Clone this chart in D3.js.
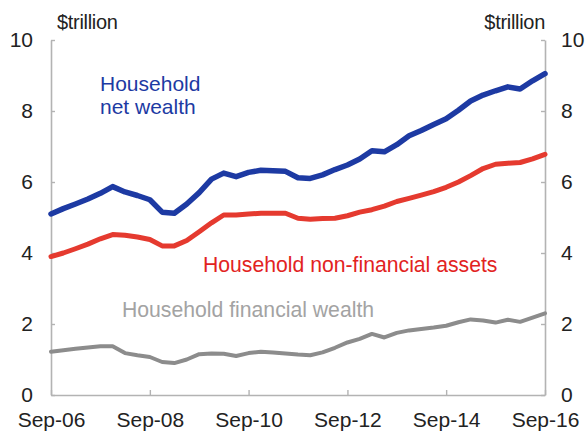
<!DOCTYPE html>
<html>
<head>
<meta charset="utf-8">
<script src="https://cdn.jsdelivr.net/npm/d3@7"></script>
<style>
  html, body { margin: 0; padding: 0; background: #fff; }
  svg { display: block; }
  text { font-family: "Liberation Sans", Arial, sans-serif; }
</style>
</head>
<body>
<svg id="chart" width="588" height="432"></svg>
<script>
// Quarterly household balance sheet, Sep-2006 to Sep-2016 ($ trillion)
const quarterCount = 41;

const netWealth = [
  5.10, 5.25, 5.38, 5.52, 5.68, 5.87, 5.72, 5.62, 5.50, 5.15,
  5.12, 5.38, 5.70, 6.08, 6.25, 6.15, 6.27, 6.33, 6.32, 6.30,
  6.12, 6.10, 6.20, 6.35, 6.48, 6.65, 6.88, 6.85, 7.05, 7.30,
  7.45, 7.62, 7.78, 8.02, 8.28, 8.45, 8.57, 8.68, 8.62, 8.85,
  9.05
];
const nonFinancialAssets = [
  3.90, 4.00, 4.12, 4.25, 4.40, 4.52, 4.50, 4.45, 4.38, 4.20,
  4.20, 4.35, 4.60, 4.85, 5.07, 5.07, 5.10, 5.12, 5.12, 5.12,
  4.98, 4.95, 4.97, 4.98, 5.05, 5.15, 5.22, 5.32, 5.45, 5.54,
  5.63, 5.73, 5.85, 6.00, 6.18, 6.38, 6.50, 6.53, 6.55, 6.65,
  6.78
];
const financialWealth = [
  1.22, 1.26, 1.30, 1.34, 1.37, 1.37, 1.18, 1.12, 1.07, 0.93,
  0.90, 1.00, 1.15, 1.17, 1.16, 1.10, 1.18, 1.22, 1.20, 1.17,
  1.14, 1.12, 1.20, 1.33, 1.48, 1.58, 1.72, 1.62, 1.75, 1.82,
  1.86, 1.90, 1.95, 2.05, 2.13, 2.10, 2.04, 2.12, 2.06, 2.18,
  2.30
];
const yTicks = [0, 2, 4, 6, 8, 10];
const xTickLabels = ["Sep-06", "Sep-08", "Sep-10", "Sep-12", "Sep-14", "Sep-16"];
const unitLabel = "$trillion";

const quarters = d3.range(quarterCount).map(i => d3.timeMonth.offset(new Date(2006, 8, 1), 3 * i));

const svg = d3.select("#chart");
const plotLeft = 51, plotRight = 545, plotTop = 40, plotBottom = 395;

const x = d3.scaleTime()
  .domain([quarters[0], quarters[quarters.length - 1]])
  .range([plotLeft, plotRight]);
const y = d3.scaleLinear().domain([0, 10]).range([plotBottom, plotTop]);

const axisColor = "#b3b3b3";
const labelColor = "#222";

// Axes
const xTickDates = xTickLabels.map((_, i) => quarters[i * 8]);
const gx = svg.append("g").attr("transform", `translate(0,${plotBottom})`)
  .call(d3.axisBottom(x).tickValues(xTickDates).tickSize(-5).tickSizeOuter(0)
    .tickFormat((d, i) => xTickLabels[i]).tickPadding(20));
const gl = svg.append("g").attr("transform", `translate(${plotLeft},0)`)
  .call(d3.axisLeft(y).tickValues(yTicks).tickSize(-4).tickSizeOuter(0).tickPadding(18));
const gr = svg.append("g").attr("transform", `translate(${plotRight},0)`)
  .call(d3.axisRight(y).tickValues(yTicks).tickSize(-4).tickSizeOuter(0).tickPadding(16));

[gx, gl, gr].forEach(g => {
  g.select(".domain").attr("stroke", axisColor).attr("stroke-width", 1.6);
  g.selectAll(".tick line").attr("stroke", axisColor).attr("stroke-width", 1.4);
  g.selectAll(".tick text").attr("fill", labelColor).attr("font-size", 21);
});
gx.selectAll(".tick text").attr("dy", "0.55em");

svg.append("text").attr("x", 57).attr("y", 29).attr("fill", labelColor)
  .attr("font-size", 20).attr("letter-spacing", -0.3).text(unitLabel);
svg.append("text").attr("x", 545).attr("y", 29).attr("fill", labelColor)
  .attr("text-anchor", "end").attr("font-size", 20).attr("letter-spacing", -0.3).text(unitLabel);

// Series lines
const series = [
  { values: financialWealth, color: "#8c8c8c", width: 4 },
  { values: nonFinancialAssets, color: "#e53a2f", width: 5 },
  { values: netWealth, color: "#1d3aa3", width: 5.5 }
];
const line = d3.line().x((d, i) => x(quarters[i])).y(d => y(d));
series.forEach(s => {
  svg.append("path").datum(s.values)
    .attr("fill", "none").attr("stroke", s.color).attr("stroke-width", s.width)
    .attr("stroke-linejoin", "round").attr("stroke-linecap", "round")
    .attr("d", line);
});

// Series labels
const netLabel = svg.append("text").attr("fill", "#1d3aa3").attr("font-size", 21);
netLabel.append("tspan").attr("x", 100).attr("y", 91).text("Household");
netLabel.append("tspan").attr("x", 100).attr("y", 114).text("net wealth");

svg.append("text").attr("x", 203).attr("y", 272).attr("fill", "#e2231f")
  .attr("font-size", 21.2)
  .text("Household non-financial assets");

svg.append("text").attr("x", 122).attr("y", 317).attr("fill", "#a3a3a3")
  .attr("font-size", 21.2)
  .text("Household financial wealth");
</script>
</body>
</html>
